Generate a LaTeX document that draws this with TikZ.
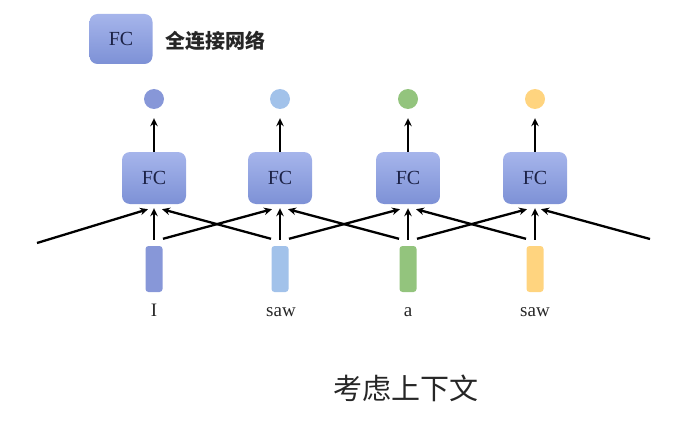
\documentclass[tikz,border=0pt]{standalone}
\usepackage{fontspec}
\setmainfont{Liberation Serif}
\newfontfamily\cjk{Noto Sans CJK SC}
\usetikzlibrary{arrows.meta}
\definecolor{boxtop}{HTML}{A6B5EB}
\definecolor{boxbot}{HTML}{7D91D6}
\definecolor{fctext}{HTML}{1C2246}
\definecolor{cA}{HTML}{8797D8}
\definecolor{cB}{HTML}{A2C2EA}
\definecolor{cC}{HTML}{93C47D}
\definecolor{cD}{HTML}{FFD47F}
\tikzset{
  fcbox/.style={rounded corners=8pt, top color=boxtop, bottom color=boxbot, draw=none,
    minimum width=64pt, minimum height=52pt, inner sep=0pt, text=fctext, font=\fontsize{20}{20}\selectfont},
  outdot/.style={circle, minimum size=20pt, inner sep=0pt, draw=none},
  bar/.style={rounded corners=3pt, minimum width=17pt, minimum height=46pt, inner sep=0pt, draw=none},
  word/.style={anchor=base, font=\fontsize{19}{19}\selectfont, inner sep=0pt, text=black!85},
  arr/.style={line width=2.3pt, -{Stealth[length=8pt,width=7.5pt]}}
}
\begin{document}
\begin{tikzpicture}[x=1pt,y=-1pt]
\useasboundingbox (0,0) rectangle (685,425);
% legend
\node[fcbox, minimum width=63pt, minimum height=50pt] (leg) at (121,39) {FC};
\node[anchor=west, inner sep=0pt, text=black!85, font=\cjk\bfseries\fontsize{20}{20}\selectfont] (legt) at (165,41) {全连接网络};
% FC boxes
\foreach \i/\x/\c in {1/154/cA,2/280/cB,3/408/cC,4/535/cD}{
  \node[fcbox] (fc\i) at (\x,178) {FC};
  \node[outdot, fill=\c] (o\i) at (\x,99) {};
  \node[bar, fill=\c] (in\i) at (\x,269) {};
}
\node[word] (w1) at (154,316) {I};
\node[word] (w2) at (281,316) {saw};
\node[word] (w3) at (408,316) {a};
\node[word] (w4) at (535,316) {saw};
\coordinate (L) at (37,243);
\coordinate (R) at (650,239);
% arrows
\foreach \i in {1,2,3,4}{
  \draw[arr, shorten <=6pt, shorten >=4pt] (in\i.north) -- (fc\i.south);
  \draw[arr, shorten >=9pt] (fc\i.north) -- (o\i.south);
}
\draw[arr] (L) -- ([xshift=-6pt,yshift=-5pt]fc1.south);
\draw[arr] ([xshift=9pt,yshift=7pt]in1.north) -- ([xshift=-8pt,yshift=-5pt]fc2.south);
\draw[arr] ([xshift=9pt,yshift=7pt]in2.north) -- ([xshift=-8pt,yshift=-5pt]fc3.south);
\draw[arr] ([xshift=9pt,yshift=7pt]in3.north) -- ([xshift=-8pt,yshift=-5pt]fc4.south);
\draw[arr] ([xshift=-9pt,yshift=7pt]in2.north) -- ([xshift=8pt,yshift=-5pt]fc1.south);
\draw[arr] ([xshift=-9pt,yshift=7pt]in3.north) -- ([xshift=8pt,yshift=-5pt]fc2.south);
\draw[arr] ([xshift=-9pt,yshift=7pt]in4.north) -- ([xshift=8pt,yshift=-5pt]fc3.south);
\draw[arr] (R) -- ([xshift=6pt,yshift=-5pt]fc4.south);
% caption
\node[inner sep=0pt, text=black!85, font=\cjk\fontsize{29}{29}\selectfont] (cap) at (406,388) {考虑上下文};
\end{tikzpicture}
\end{document}
